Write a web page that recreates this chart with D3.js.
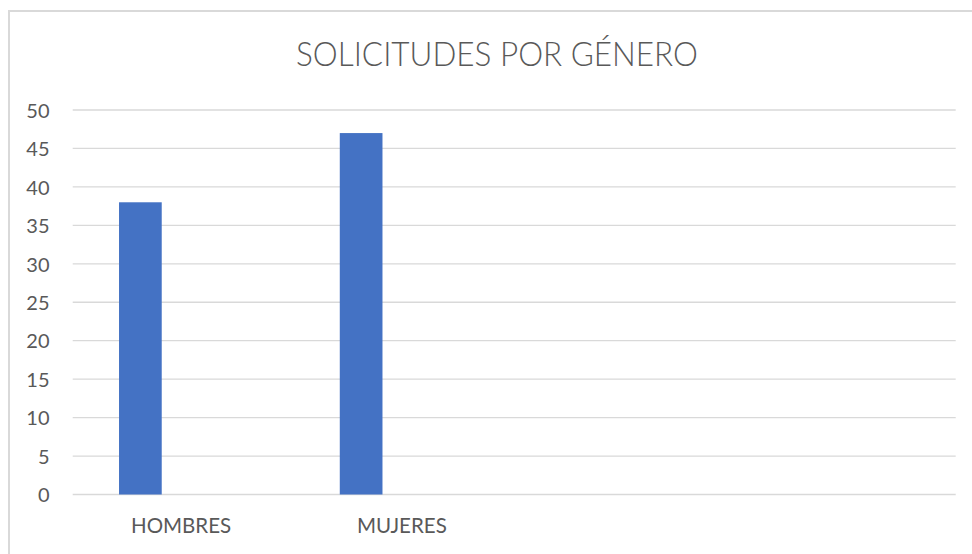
<!DOCTYPE html>
<html>
<head>
<meta charset="utf-8">
<script src="https://cdn.jsdelivr.net/npm/d3@7"></script>
<style>
  html, body { margin: 0; padding: 0; background: #ffffff; }
  svg { display: block; }
  text { font-family: Lato, "Open Sans", sans-serif; fill: #595959; }
</style>
</head>
<body>
<svg id="chart" width="972" height="554"></svg>
<script>
// Chart data
const title = "SOLICITUDES POR GÉNERO";
const categories = ["HOMBRES", "MUJERES", "", ""];
const series = ["Serie 1", "Serie 2", "Serie 3"];
const values = [38, 47];            // Serie 1 only; other series are empty
const yTicks = [0, 5, 10, 15, 20, 25, 30, 35, 40, 45, 50];

const W = 972, H = 554;
const plot = { left: 72.7, right: 955.7, top: 110, bottom: 494.5 };

const svg = d3.select("#chart");

// Chart area frame
svg.append("rect")
  .attr("x", 9).attr("y", 11)
  .attr("width", W + 20).attr("height", H + 20)
  .attr("fill", "#ffffff")
  .attr("stroke", "#d9d9d9").attr("stroke-width", 2);

// Scales
const x0 = d3.scaleBand().domain(categories.map((c, i) => i))
  .range([plot.left, plot.right]).paddingInner(0).paddingOuter(0);
const x1 = d3.scaleBand().domain(series)
  .range([0, x0.bandwidth()]).paddingInner(0).paddingOuter(1.085);
const y = d3.scaleLinear().domain([0, 50]).range([plot.bottom, plot.top]);

// Gridlines
svg.append("g")
  .selectAll("line")
  .data(yTicks)
  .join("line")
  .attr("x1", plot.left).attr("x2", plot.right)
  .attr("y1", d => y(d)).attr("y2", d => y(d))
  .attr("stroke", "#d9d9d9").attr("stroke-width", 1.3);

// Y axis labels
const yAxis = d3.axisLeft(y).tickValues(yTicks).tickSize(0).tickPadding(0);
const gy = svg.append("g").attr("transform", `translate(49.5,0)`).call(yAxis);
gy.select(".domain").remove();
gy.selectAll("text")
  .attr("font-family", "Lato, 'Open Sans', sans-serif")
  .attr("font-size", 20)
  .attr("fill", "#595959")
  .attr("dy", "0.36em");

// Bars (first series)
svg.append("g")
  .selectAll("rect")
  .data(values)
  .join("rect")
  .attr("x", (d, i) => x0(i) + x1(series[0]))
  .attr("width", x1.bandwidth())
  .attr("y", d => y(d))
  .attr("height", d => y(0) - y(d))
  .attr("fill", "#4472c4");

// Category axis labels
const xAxis = d3.axisBottom(x0).tickFormat(i => categories[i]).tickSize(0).tickPadding(0);
const gx = svg.append("g").attr("transform", `translate(-2,${plot.bottom})`).call(xAxis);
gx.select(".domain").remove();
gx.selectAll("text")
  .attr("font-family", "Lato, 'Open Sans', sans-serif")
  .attr("font-size", 20.5)
  .attr("fill", "#595959")
  .attr("dy", null)
  .attr("y", 38.8);

// Title
svg.append("text")
  .attr("x", 497).attr("y", 65.7)
  .attr("text-anchor", "middle")
  .attr("font-size", 33)
  .attr("font-weight", 300)
  .attr("textLength", 402)
  .attr("lengthAdjust", "spacingAndGlyphs")
  .text(title);
</script>
</body>
</html>
